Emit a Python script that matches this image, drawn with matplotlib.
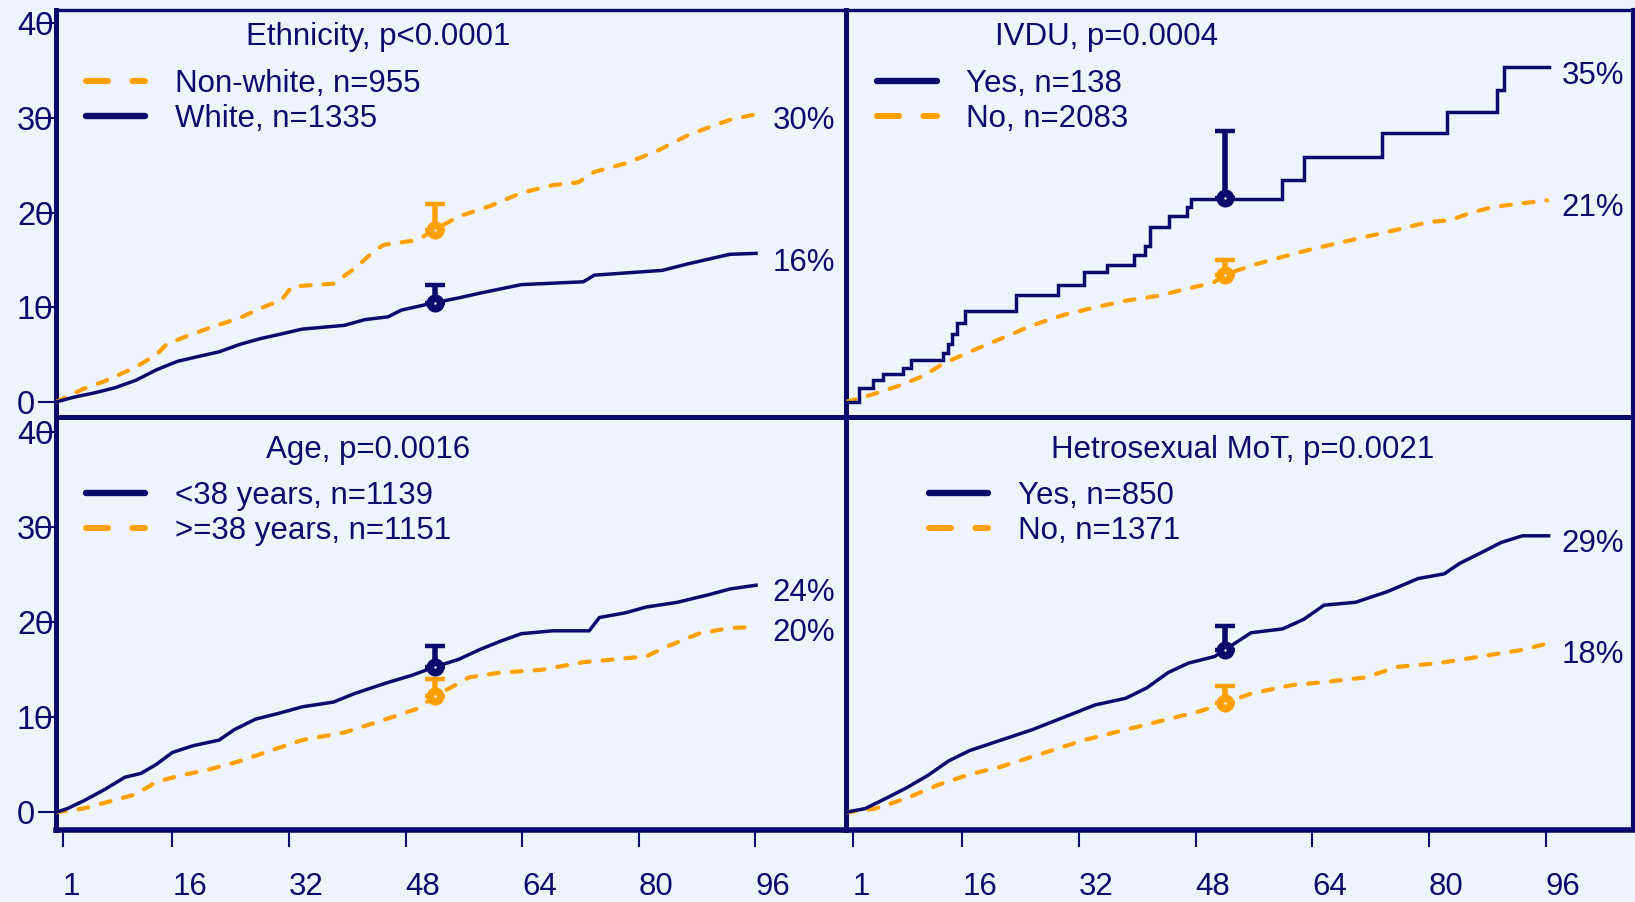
import matplotlib
matplotlib.use("Agg")
import matplotlib.pyplot as plt
from matplotlib.lines import Line2D

plt.rcParams['font.family'] = ['Liberation Sans', 'DejaVu Sans']

NAVY = "#0B0B6E"
ORANGE = "#FFA000"
BG = "#EFF4FA"

x_ticks = [1, 16, 32, 48, 64, 80, 96]
y_ticks = [0, 10, 20, 30, 40]
point_time = 52

# ---------------- Panel 1: Ethnicity ----------------
eth_title = "Ethnicity, p<0.0001"
eth_nonwhite_label = "Non-white, n=955"
eth_nonwhite_x = [0, 3.8, 6.7, 11.0, 13.8, 15.2, 18.1, 21.0, 25.3, 28.1, 31.0, 32.4, 38.1, 41.0, 43.8, 45.0,
                  49.6, 52.0, 55.3, 59.6, 63.9, 68.2, 71.7, 73.9, 78.2, 82.5, 86.8, 89.6, 92.5, 96.1]
eth_nonwhite_y = [0, 1.4, 2.2, 3.7, 5.0, 6.1, 7.0, 7.8, 8.9, 9.9, 10.8, 12.2, 12.5, 14.1, 16.0, 16.6,
                  17.1, 18.2, 19.6, 20.7, 22.1, 22.9, 23.2, 24.3, 25.2, 26.5, 28.2, 29.0, 29.8, 30.4]
eth_white_label = "White, n=1335"
eth_white_x = [0, 2.4, 5.2, 8.1, 11.0, 13.8, 16.7, 19.5, 22.4, 25.3, 28.1, 31.0, 33.8, 39.6, 42.4, 45.6,
               47.4, 52.0, 55.3, 58.2, 63.9, 72.4, 73.9, 83.2, 86.8, 92.5, 96.1]
eth_white_y = [0, 0.5, 0.95, 1.5, 2.3, 3.4, 4.3, 4.8, 5.3, 6.1, 6.7, 7.2, 7.7, 8.1, 8.7, 9.0,
               9.7, 10.5, 11.0, 11.5, 12.4, 12.7, 13.4, 13.9, 14.6, 15.6, 15.7]
eth_nonwhite_pt, eth_nonwhite_hi = 18.2, 20.9
eth_white_pt, eth_white_hi = 10.5, 12.35
eth_end_labels = ["30%", "16%"]
eth_end_label_y = [30.1, 15.0]

# ---------------- Panel 2: IVDU ----------------
ivdu_title = "IVDU, p=0.0004"
ivdu_yes_label = "Yes, n=138"
ivdu_yes_x = [0, 1.8, 3.7, 5.1, 7.9, 8.9, 13.3, 14.0, 14.6, 15.3, 16.3, 23.4, 29.1, 32.7, 35.8, 39.5,
              41.0, 41.7, 44.3, 46.8, 47.4, 59.9, 62.8, 73.5, 82.5, 89.3, 90.3, 96.5]
ivdu_yes_y = [0, 1.5, 2.3, 3.0, 3.6, 4.4, 5.2, 6.1, 7.2, 8.3, 9.6, 11.3, 12.4, 13.7, 14.5, 15.5,
              16.5, 18.5, 19.6, 20.6, 21.4, 23.5, 25.9, 28.4, 30.6, 32.9, 35.4, 35.4]
ivdu_no_label = "No, n=2083"
ivdu_no_x = [0, 4.1, 7.6, 10.6, 13.5, 17.0, 21.3, 25.6, 29.9, 34.2, 38.4, 42.7, 47.0, 50.4, 52.0,
             53.7, 56.5, 60.2, 64.2, 69.9, 75.6, 79.9, 82.9, 85.6, 88.8, 92.9, 96.2]
ivdu_no_y = [0, 0.9, 1.8, 2.75, 4.1, 5.3, 6.7, 8.1, 9.2, 10.0, 10.7, 11.2, 12.0, 12.6, 13.4,
             13.9, 14.6, 15.4, 16.2, 17.2, 18.2, 19.0, 19.2, 19.96, 20.6, 21.0, 21.3]
ivdu_yes_pt, ivdu_yes_hi = 21.5, 28.6
ivdu_no_pt, ivdu_no_hi = 13.4, 15.0
ivdu_end_labels = ["35%", "21%"]
ivdu_end_label_y = [34.8, 20.9]

# ---------------- Panel 3: Age ----------------
age_title = "Age, p=0.0016"
age_young_label = "<38 years, n=1139"
age_young_x = [0, 1.6, 3.8, 6.7, 9.5, 11.7, 13.8, 16.0, 18.8, 22.4, 24.5, 27.4, 31.0, 33.8, 38.1, 41.0,
               45.3, 48.8, 52.0, 55.3, 58.1, 61.0, 63.9, 68.2, 73.2, 74.6, 78.2, 81.0, 85.3, 89.6, 92.5, 96.1]
age_young_y = [0, 0.4, 1.2, 2.4, 3.7, 4.1, 5.05, 6.3, 7.0, 7.6, 8.7, 9.8, 10.5, 11.1, 11.6, 12.5,
               13.6, 14.4, 15.3, 16.1, 17.1, 18.0, 18.8, 19.1, 19.1, 20.5, 21.0, 21.6, 22.1, 22.9, 23.5, 23.9]
age_old_label = ">=38 years, n=1151"
age_old_x = [0, 3.8, 6.7, 11.0, 13.8, 16.7, 21.0, 25.3, 29.5, 33.8, 39.6, 45.3, 49.6, 52.0, 56.7,
             61.0, 66.7, 72.4, 81.0, 83.9, 88.2, 92.5, 96.1]
age_old_y = [0, 0.4, 1.0, 1.9, 3.2, 3.8, 4.5, 5.4, 6.5, 7.6, 8.4, 9.8, 10.9, 12.2, 14.2,
             14.7, 15.0, 15.8, 16.4, 17.45, 18.8, 19.4, 19.5]
age_young_pt, age_young_hi = 15.3, 17.45
age_old_pt, age_old_hi = 12.2, 14.0
age_end_labels = ["24%", "20%"]
age_end_label_y = [23.5, 19.2]

# ---------------- Panel 4: Heterosexual MoT ----------------
het_title = "Hetrosexual MoT, p=0.0021"
het_yes_label = "Yes, n=850"
het_yes_x = [0, 2.7, 5.6, 8.4, 11.3, 14.1, 17.0, 21.3, 25.6, 29.9, 34.2, 38.4, 41.3, 44.2, 47.0, 50.6,
             52.0, 55.6, 59.9, 62.8, 65.6, 69.9, 74.2, 78.5, 82.1, 84.2, 87.1, 89.9, 92.8, 96.4]
het_yes_y = [0, 0.4, 1.5, 2.6, 3.9, 5.4, 6.5, 7.6, 8.7, 10.0, 11.3, 12.0, 13.1, 14.7, 15.7, 16.4,
             17.1, 18.9, 19.3, 20.3, 21.8, 22.1, 23.2, 24.6, 25.1, 26.2, 27.3, 28.4, 29.1, 29.1]
het_no_label = "No, n=1371"
het_no_x = [0, 4.1, 8.4, 12.7, 17.0, 21.3, 27.0, 32.7, 38.4, 44.2, 48.4, 52.0, 55.6, 61.3, 65.6,
            71.3, 75.6, 81.3, 87.1, 92.8, 96.4]
het_no_y = [0, 0.4, 1.5, 2.9, 4.0, 4.8, 6.2, 7.6, 8.7, 9.8, 10.6, 11.5, 12.5, 13.4, 13.7,
            14.2, 15.3, 15.7, 16.4, 17.1, 17.8]
het_yes_pt, het_yes_hi = 17.1, 19.6
het_no_pt, het_no_hi = 11.5, 13.3
het_end_labels = ["29%", "18%"]
het_end_label_y = [28.6, 16.9]

# ---------------- Figure ----------------
W, H = 1635, 902
fig = plt.figure(figsize=(W / 100, H / 100), dpi=100, facecolor=BG)


def px_rect(x0, y0, x1, y1):
    return [x0 / W, 1 - y1 / H, (x1 - x0) / W, (y1 - y0) / H]


ax_tl = fig.add_axes(px_rect(55.8, 10, 845.7, 417))
ax_tr = fig.add_axes(px_rect(845.7, 10, 1632.5, 417))
ax_bl = fig.add_axes(px_rect(55.8, 417, 845.7, 830))
ax_br = fig.add_axes(px_rect(845.7, 417, 1632.5, 830))

TEXT_SIZE = 22.5


def setup(ax, xlim, ylim, show_y, show_x):
    ax.set_facecolor(BG)
    ax.set_xlim(*xlim)
    ax.set_ylim(*ylim)
    for s in ax.spines.values():
        s.set_color(NAVY)
    ax.spines['left'].set_linewidth(3.6)
    ax.spines['right'].set_linewidth(3.6 if show_y else 3.0)
    ax.spines['top'].set_linewidth(2.4 if not show_x else 3.6)
    ax.spines['bottom'].set_linewidth(4.0 if show_x else 3.6)
    ax.set_xticks(x_ticks)
    ax.set_yticks(y_ticks)
    ax.tick_params(axis='x', bottom=show_x, labelbottom=show_x, top=False, length=12.2, width=1.5,
                   color=NAVY, labelcolor=NAVY, labelsize=22.5, pad=18, direction='out')
    ax.tick_params(axis='y', left=show_y, labelleft=show_y, right=False, length=13, width=1.5,
                   color=NAVY, labelcolor=NAVY, labelsize=23.5, pad=15, direction='out')
    for lab in ax.get_xticklabels():
        lab.set_ha('left')
    for lab in ax.get_yticklabels():
        lab.set_ha('left')


def curve(ax, x, y, color, dashed, step=False):
    if dashed:
        kw = dict(color=color, lw=3.0, dashes=(2.4, 3.1), dash_capstyle='round', zorder=3)
    else:
        kw = dict(color=color, lw=2.5, solid_joinstyle='miter', zorder=3)
    if step:
        ax.step(x, y, where='post', **kw)
    else:
        ax.plot(x, y, **kw)


def point(ax, y, hi, color):
    ax.errorbar([point_time], [y], yerr=[[0], [hi - y]], fmt='none', ecolor=color,
                elinewidth=4.0, capsize=7.3, capthick=3.2, zorder=5)
    ax.plot([point_time], [y], marker='o', ms=7.5, mfc=BG, mec=color, mew=5.5,
            linestyle='none', zorder=6)


def legend(ax, entries, anchor):
    handles = []
    for label, color, dashed in entries:
        if dashed:
            h = Line2D([], [], color=color, lw=4.4, dashes=(3.6, 4.0), dash_capstyle='round')
        else:
            h = Line2D([], [], color=color, lw=4.6, solid_capstyle='round')
        handles.append(h)
    ax.legend(handles, [e[0] for e in entries], loc='upper left', bbox_to_anchor=anchor,
              frameon=False, fontsize=TEXT_SIZE, labelcolor=NAVY, handlelength=1.9, handletextpad=0.95,
              labelspacing=0.17, borderpad=0, borderaxespad=0)


def end_labels(ax, labels, ys, xpos):
    for lab, yy in zip(labels, ys):
        ax.text(xpos, yy, lab, ha='left', va='center_baseline', fontsize=TEXT_SIZE, color=NAVY)


TOP_YLIM = (-1.58, 41.4)
BOT_YLIM = (-1.86, 41.6)

# Top-left
setup(ax_tl, (0, 108.4), TOP_YLIM, True, False)
curve(ax_tl, eth_nonwhite_x, eth_nonwhite_y, ORANGE, True)
curve(ax_tl, eth_white_x, eth_white_y, NAVY, False)
point(ax_tl, eth_nonwhite_pt, eth_nonwhite_hi, ORANGE)
point(ax_tl, eth_white_pt, eth_white_hi, NAVY)
ax_tl.text(44.2, 38.9, eth_title, ha='center', va='center_baseline', fontsize=TEXT_SIZE, color=NAVY)
legend(ax_tl, [(eth_nonwhite_label, ORANGE, True), (eth_white_label, NAVY, False)], (0.038, 0.856))
end_labels(ax_tl, eth_end_labels, eth_end_label_y, 98.4)

# Top-right
setup(ax_tr, (0, 107.9), TOP_YLIM, False, False)
curve(ax_tr, ivdu_no_x, ivdu_no_y, ORANGE, True)
curve(ax_tr, ivdu_yes_x, ivdu_yes_y, NAVY, False, step=True)
point(ax_tr, ivdu_no_pt, ivdu_no_hi, ORANGE)
point(ax_tr, ivdu_yes_pt, ivdu_yes_hi, NAVY)
ax_tr.text(35.8, 38.9, ivdu_title, ha='center', va='center_baseline', fontsize=TEXT_SIZE, color=NAVY)
legend(ax_tr, [(ivdu_yes_label, NAVY, False), (ivdu_no_label, ORANGE, True)], (0.040, 0.856))
end_labels(ax_tr, ivdu_end_labels, ivdu_end_label_y, 98.2)

# Bottom-left
setup(ax_bl, (0, 108.4), BOT_YLIM, True, True)
curve(ax_bl, age_old_x, age_old_y, ORANGE, True)
curve(ax_bl, age_young_x, age_young_y, NAVY, False)
point(ax_bl, age_old_pt, age_old_hi, ORANGE)
point(ax_bl, age_young_pt, age_young_hi, NAVY)
ax_bl.text(42.8, 38.5, age_title, ha='center', va='center_baseline', fontsize=TEXT_SIZE, color=NAVY)
legend(ax_bl, [(age_young_label, NAVY, False), (age_old_label, ORANGE, True)], (0.038, 0.846))
end_labels(ax_bl, age_end_labels, age_end_label_y, 98.4)

# Bottom-right
setup(ax_br, (0, 107.9), BOT_YLIM, False, True)
curve(ax_br, het_no_x, het_no_y, ORANGE, True)
curve(ax_br, het_yes_x, het_yes_y, NAVY, False)
point(ax_br, het_no_pt, het_no_hi, ORANGE)
point(ax_br, het_yes_pt, het_yes_hi, NAVY)
ax_br.text(54.5, 38.5, het_title, ha='center', va='center_baseline', fontsize=TEXT_SIZE, color=NAVY)
legend(ax_br, [(het_yes_label, NAVY, False), (het_no_label, ORANGE, True)], (0.106, 0.846))
end_labels(ax_br, het_end_labels, het_end_label_y, 98.2)

fig.savefig("out.png", dpi=100, facecolor=BG)
